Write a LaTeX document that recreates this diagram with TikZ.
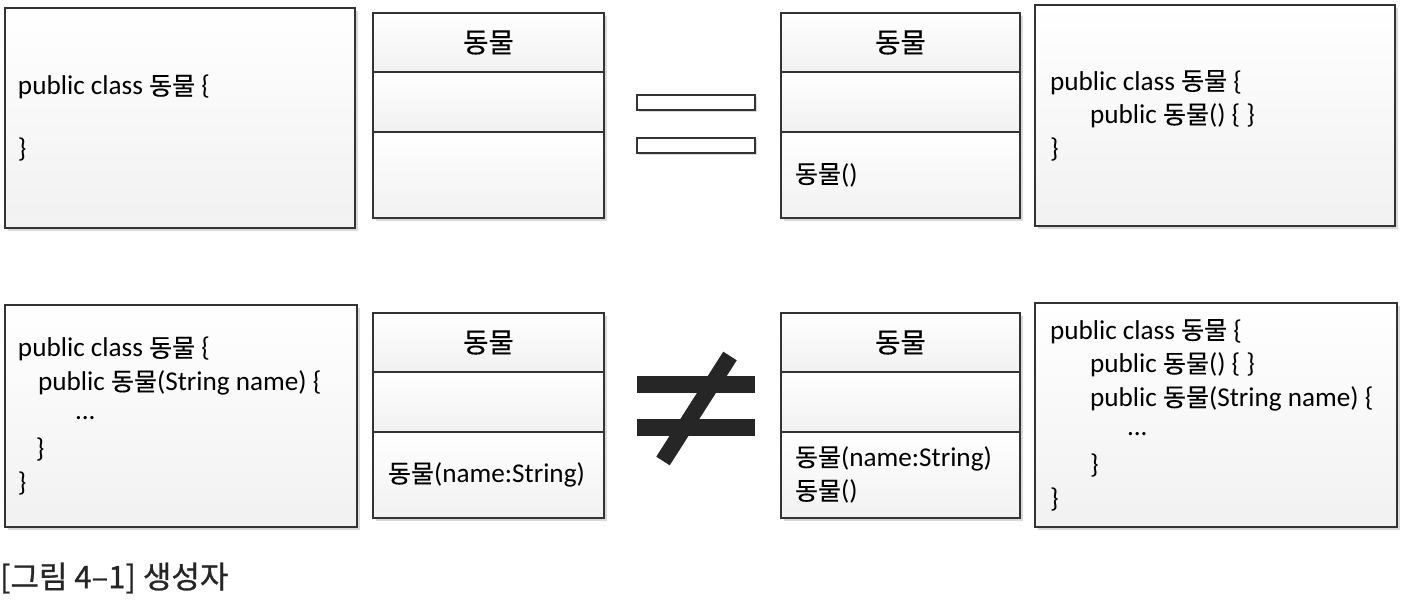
\documentclass[tikz,border=0pt]{standalone}
\usepackage{fontspec}
\setmainfont{Carlito}
\newfontfamily\kr[Scale=0.92, FakeBold=0.3]{Noto Sans CJK KR}
\newfontfamily\krcap[FakeBold=0.8]{Noto Sans CJK KR}
\usetikzlibrary{positioning,shadows}

\newcommand{\dm}{{\kr 동물}}
\newcommand{\bodydots}{\raisebox{0.35ex}{...}}

\begin{document}
\begin{tikzpicture}[x=0.5pt, y=-0.5pt,
  every node/.style={font=\fontsize{13.6}{16.8}\selectfont, outer sep=0pt},
  box/.style={draw=black!80, line width=0.8pt, top color=white, bottom color=gray!11,
    drop shadow={shadow xshift=1.3pt, shadow yshift=-1.3pt, opacity=0.3}},
  codebox/.style={box, anchor=north west, inner sep=0pt},
  codetext/.style={anchor=west, align=left, inner sep=0pt},
  umlpart/.style={box, inner sep=0pt, minimum width=#1},
  umlhead/.style={umlpart=#1, anchor=north west, minimum height=29.5pt, font=\fontsize{15}{15}\selectfont},
  eqbar/.style={draw=black!80, line width=0.8pt, fill=white, anchor=north west, inner sep=0pt,
    minimum width=59pt, minimum height=7.5pt,
    drop shadow={shadow xshift=1pt, shadow yshift=-1pt, opacity=0.3}},
  nebar/.style={fill=black!85, anchor=north west, inner sep=0pt,
    minimum width=59pt, minimum height=8.5pt},
  slash/.style={draw=black!85, line width=8pt}]
  \useasboundingbox (0,0) rectangle (1407,615);

  % row 1: default constructor is added
  \node[codebox, minimum width=175pt, minimum height=110pt] (c1) at (5,8) {};
  \node[codetext] (t1) at ([xshift=6.5pt]c1.west) {public class \dm{} \{\\[14.5pt]\}};

  \node[umlhead=115.5pt] (u1h) at (373,13) {\dm};
  \node[umlpart=115.5pt, minimum height=30pt, below=0pt of u1h] (u1a) {};
  \node[umlpart=115.5pt, minimum height=43pt, below=0pt of u1a] (u1m) {};

  \node[eqbar] (eq1) at (637,95) {};
  \node[eqbar] (eq2) at (637,138) {};

  \node[umlhead=119.5pt] (u2h) at (781,13) {\dm};
  \node[umlpart=119.5pt, minimum height=30pt, below=0pt of u2h] (u2a) {};
  \node[umlpart=119.5pt, minimum height=43pt, below=0pt of u2a] (u2m) {};
  \node[codetext] (m2) at ([xshift=7pt]u2m.west) {\dm()};

  \node[codebox, minimum width=180pt, minimum height=110.5pt] (c2) at (1035,5) {};
  \node[codetext] (t2) at ([xshift=7.5pt]c2.west) {public class \dm{} \{\\
    \hspace*{20pt}public \dm() \{ \}\\
    \}};

  % row 2: no default constructor
  \node[codebox, minimum width=176pt, minimum height=111pt] (c3) at (5,305) {};
  \node[codetext] (t3) at ([xshift=6.5pt]c3.west) {public class \dm{} \{\\
    \hspace*{10pt}public \dm(String name) \{\\
    \hspace*{28.5pt}\bodydots\\
    \hspace*{9pt}\}\\
    \}};

  \node[umlhead=115.5pt] (u3h) at (373,313) {\dm};
  \node[umlpart=115.5pt, minimum height=30pt, below=0pt of u3h] (u3a) {};
  \node[umlpart=115.5pt, minimum height=43pt, below=0pt of u3a] (u3m) {};
  \node[codetext] (m3) at ([xshift=7.5pt]u3m.west) {\dm(name:String)};

  \node[nebar] (ne1) at (637,376) {};
  \node[nebar] (ne2) at (637,419) {};
  \coordinate (s1) at (730,356);
  \coordinate (s2) at (663,461);
  \draw[slash] (s1) -- (s2);

  \node[umlhead=119.5pt] (u4h) at (781,313) {\dm};
  \node[umlpart=119.5pt, minimum height=30pt, below=0pt of u4h] (u4a) {};
  \node[umlpart=119.5pt, minimum height=43pt, below=0pt of u4a] (u4m) {};
  \node[codetext] (m4) at ([xshift=7pt]u4m.west) {\dm(name:String)\\\dm()};

  \node[codebox, minimum width=181pt, minimum height=112pt] (c4) at (1035,303) {};
  \node[codetext] (t4) at ([xshift=7.5pt]c4.west) {public class \dm{} \{\\
    \hspace*{20pt}public \dm() \{ \}\\
    \hspace*{20pt}public \dm(String name) \{\\
    \hspace*{38.5pt}\bodydots\\
    \hspace*{20pt}\}\\
    \}};

  \node[anchor=west, inner sep=0pt, text=black!85, font=\krcap\fontsize{15.5}{15.5}\selectfont]
    (cap) at (0,578) {[그림 4–1] 생성자};
\end{tikzpicture}
\end{document}
